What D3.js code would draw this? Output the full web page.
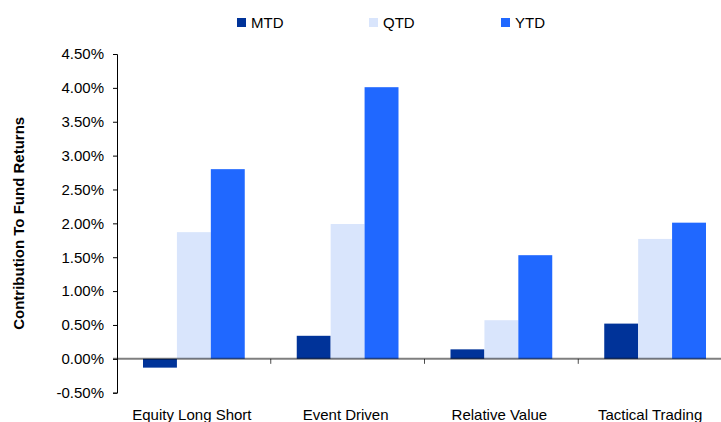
<!DOCTYPE html>
<html>
<head>
<meta charset="utf-8">
<script src="https://cdn.jsdelivr.net/npm/d3@7"></script>
<style>
  body { margin: 0; background: #fff; }
  svg { display: block; font-family: "Liberation Sans", Arial, sans-serif; }
</style>
</head>
<body>
<svg width="721" height="422"></svg>
<script>
  const categories = ["Equity Long Short", "Event Driven", "Relative Value", "Tactical Trading"];
  const series = ["MTD", "QTD", "YTD"];
  const mtd = [-0.13, 0.34, 0.14, 0.52];
  const qtd = [1.87, 1.99, 0.57, 1.77];
  const ytd = [2.80, 4.01, 1.53, 2.01];
  const yTicks = [-0.5, 0, 0.5, 1, 1.5, 2, 2.5, 3, 3.5, 4, 4.5];
  const colors = ["#003399", "#d9e5fc", "#2068ff"];

  const values = [mtd, qtd, ytd];
  const svg = d3.select("svg");

  // plot area (runs past the right edge like the original)
  const plotL = 117, plotR = 732, plotT = 54, plotB = 392.7;

  const x0 = d3.scaleBand().domain(categories).range([plotL, plotR]).padding(0);
  const x1 = d3.scaleBand().domain(series).range([26, x0.bandwidth() - 26]).padding(0);
  const y = d3.scaleLinear().domain([-0.5, 4.5]).range([plotB, plotT]);

  // bars
  series.forEach((s, si) => {
    svg.append("g")
      .attr("fill", colors[si])
      .selectAll("rect")
      .data(categories)
      .join("rect")
      .attr("x", (c) => x0(c) + x1(s))
      .attr("width", x1.bandwidth())
      .attr("y", (c, i) => y(Math.max(0, values[si][i])))
      .attr("height", (c, i) => Math.abs(y(values[si][i]) - y(0)));
  });

  // y axis
  const yAxis = svg.append("g")
    .attr("transform", `translate(${plotL},0)`)
    .call(d3.axisLeft(y).tickValues(yTicks).tickSize(4).tickPadding(9)
      .tickFormat((d) => d.toFixed(2) + "%"));
  yAxis.select(".domain").attr("stroke", "#000");
  yAxis.selectAll("line").attr("stroke", "#000");
  yAxis.selectAll("text").attr("font-size", 15).attr("fill", "#000")
    .attr("font-family", "Liberation Sans, Arial, sans-serif");

  // zero line and category separators
  svg.append("line")
    .attr("x1", plotL - 4).attr("x2", 721)
    .attr("y1", y(0)).attr("y2", y(0))
    .attr("stroke", "#000").attr("stroke-opacity", 0.5).attr("stroke-width", 2);

  svg.append("g")
    .selectAll("line")
    .data(categories.slice(1))
    .join("line")
    .attr("x1", (c) => x0(c)).attr("x2", (c) => x0(c))
    .attr("y1", y(0)).attr("y2", y(0) + 5)
    .attr("stroke", "#000").attr("stroke-opacity", 0.7);

  // category labels
  svg.append("g")
    .selectAll("text")
    .data(categories)
    .join("text")
    .attr("x", (c, i) => x0(c) + x0.bandwidth() / 2 - (i === 3 ? 5 : 2))
    .attr("y", 420)
    .attr("text-anchor", "middle")
    .attr("font-size", 15)
    .text((c) => c);

  // y title
  svg.append("text")
    .attr("transform", `translate(24,${y(2)}) rotate(-90)`)
    .attr("text-anchor", "middle")
    .attr("font-size", 15)
    .attr("font-weight", "bold")
    .text("Contribution To Fund Returns");

  // legend
  const legend = svg.append("g")
    .selectAll("g")
    .data(series)
    .join("g")
    .attr("transform", (d, i) => `translate(${237 + i * 132},18)`);
  legend.append("rect").attr("width", 9).attr("height", 9)
    .attr("fill", (d, i) => colors[i]);
  legend.append("text").attr("x", 14).attr("y", 10)
    .attr("font-size", 15).text((d) => d);
</script>
</body>
</html>
